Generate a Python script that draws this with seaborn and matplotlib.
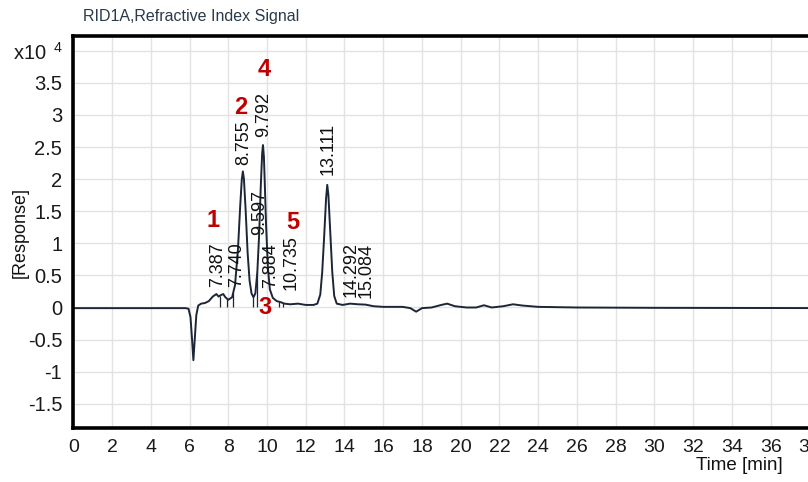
import numpy as np
import pandas as pd
import matplotlib
matplotlib.use("Agg")
import matplotlib.pyplot as plt
import seaborn as sns

# Refractive index detector trace (time in min, response in units of 1e4)
time_min = [0.0, 5.8, 5.95, 6.05, 6.12, 6.2, 6.28, 6.35, 6.45, 6.6, 6.8, 7.0, 7.2,
            7.387, 7.5, 7.6, 7.74, 7.85, 8.0, 8.2, 8.35, 8.5, 8.62, 8.7, 8.755,
            8.81, 8.9, 9.0, 9.1, 9.2, 9.3, 9.4, 9.5, 9.597, 9.68, 9.75, 9.792,
            9.84, 9.884, 9.95, 10.05, 10.15, 10.3, 10.5, 10.735, 10.9, 11.2, 11.6,
            12.0, 12.4, 12.6, 12.75, 12.85, 12.95, 13.05, 13.111, 13.17, 13.27,
            13.37, 13.47, 13.6, 13.9, 14.292, 14.7, 15.084, 15.5, 16.0, 17.0, 17.4,
            17.7, 18.0, 18.5, 19.0, 19.3, 19.7, 20.3, 20.8, 21.2, 21.6, 22.2, 22.7,
            23.2, 24.0, 26.0, 30.0, 40.0]
response = [-0.01, -0.01, -0.02, -0.15, -0.45, -0.82, -0.45, -0.12, 0.03, 0.06, 0.07,
            0.10, 0.17, 0.21, 0.17, 0.19, 0.21, 0.16, 0.12, 0.16, 0.35, 0.9, 1.6, 2.0,
            2.12, 2.0, 1.5, 0.85, 0.42, 0.22, 0.16, 0.22, 0.55, 1.15, 1.9, 2.4, 2.53,
            2.35, 1.95, 1.3, 0.6, 0.28, 0.15, 0.10, 0.08, 0.06, 0.05, 0.06, 0.04,
            0.04, 0.06, 0.2, 0.55, 1.1, 1.7, 1.91, 1.75, 1.15, 0.55, 0.18, 0.06,
            0.04, 0.06, 0.05, 0.045, 0.02, 0.01, 0.01, -0.01, -0.065, -0.01, 0.0,
            0.04, 0.06, 0.02, 0.0, 0.0, 0.035, 0.0, 0.02, 0.05, 0.03, 0.01, 0.0,
            -0.005, -0.01]

# Integrated peaks: retention time, printed label, label baseline height
peak_rt = [7.387, 7.740, 8.755, 9.597, 9.792, 9.884, 10.735, 13.111, 14.292, 15.084]
peak_text = ["7.387", "7.740", "8.755", "9.597", "9.792", "7.884", "10.735",
             "13.111", "14.292", "15.084"]
label_base = [0.32, 0.32, 2.22, 1.13, 2.65, 0.30, 0.27, 2.06, 0.16, 0.15]

# Integration drop lines
drop_times = [7.55, 7.93, 8.25, 9.30, 9.50, 10.62, 10.85]

# Peak numbering
marker_text = ["1", "2", "3", "4", "5"]
marker_t = [7.21, 8.66, 9.89, 9.84, 11.34]
marker_r = [1.36, 3.11, 0.0, 3.70, 1.32]

y_ticks = [4, 3.5, 3, 2.5, 2, 1.5, 1, 0.5, 0, -0.5, -1, -1.5]
y_tick_labels = [r"x10 $^{\,4}$", "3.5", "3", "2.5", "2", "1.5", "1", "0.5", "0",
                 "-0.5", "-1", "-1.5"]
x_ticks = list(range(0, 41, 2))

sns.set_theme(style="whitegrid")
plt.rcParams["font.family"] = ["Liberation Sans", "DejaVu Sans"]
plt.rcParams["mathtext.fontset"] = "custom"
plt.rcParams["mathtext.rm"] = "Liberation Sans"
plt.rcParams["mathtext.it"] = "Liberation Sans"

fig = plt.figure(figsize=(8.08, 4.82), dpi=100)
W, H = 808, 482
ax = fig.add_axes([73.3 / W, (H - 428) / H, 774.8 / W, 392 / H])

trace = pd.DataFrame({"t": time_min, "r": response})
sns.lineplot(data=trace, x="t", y="r", ax=ax, color="#1c2636", linewidth=1.4,
             estimator=None, sort=False)

# drop lines from baseline to the trace
drop_h = np.interp(drop_times, time_min, response)
ax.vlines(drop_times, 0, drop_h, color="#1c2636", linewidth=0.9)

ax.set_xlim(0, 40)
ax.set_ylim(-1.877, 4.229)
ax.set_xticks(x_ticks)
ax.set_xticklabels([str(v) for v in x_ticks])
ax.set_yticks(y_ticks)
ax.set_yticklabels(y_tick_labels)

ax.grid(True, color="#e2e2e2", linewidth=1.0)
ax.set_facecolor("white")
for side in ["left", "bottom", "top"]:
    ax.spines[side].set_visible(True)
    ax.spines[side].set_color("black")
    ax.spines[side].set_linewidth(2.6)
ax.spines["right"].set_visible(False)
ax.tick_params(axis="both", direction="out", length=6, width=2.6, color="#1a2535",
               labelcolor="#1a1a1a", pad=2)
ax.tick_params(axis="x", labelsize=14)
ax.tick_params(axis="y", labelsize=14.5)
ax.set_xlabel("")
ax.set_ylabel("")

# peak labels
for rt, txt, base in zip(peak_rt, peak_text, label_base):
    off = {"7.740": 0.68, "7.884": 0.30, "10.735": 0.53}.get(txt, 0.04)
    ax.text(rt + off, base, txt, rotation=90, ha="center", va="bottom",
            fontsize=13, color="#111111")

for txt, t, r in zip(marker_text, marker_t, marker_r):
    ax.text(t, r, txt, ha="center", va="center", fontsize=17, fontweight="bold",
            color="#c00000")

fig.text(83 / W, 1 - 17 / H, "RID1A,Refractive Index Signal", ha="left",
         va="center", fontsize=11.5, color="#2b3a4a")
fig.text(783 / W, 1 - 466 / H, "Time [min]", ha="right", va="center",
         fontsize=13.5, color="#111111")
fig.text(20 / W, 1 - 232 / H, "[Response]", ha="center", va="center",
         rotation=90, fontsize=13, color="#111111")

fig.savefig("out.png", dpi=100)
